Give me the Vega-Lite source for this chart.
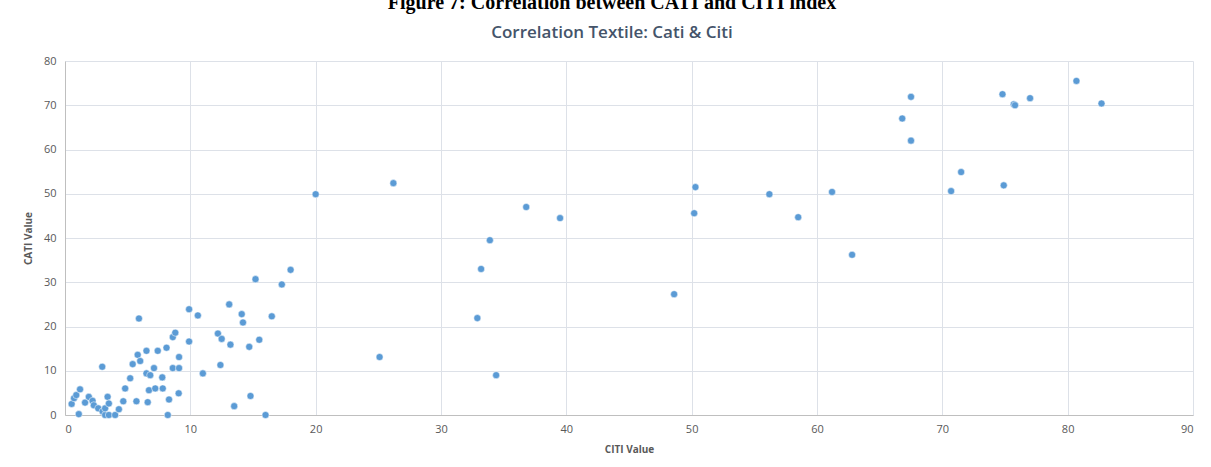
{
  "$schema": "https://vega.github.io/schema/vega-lite/v6.json",
  "width": 1128,
  "height": 354,
  "autosize": {"type": "none"},
  "padding": {"left": 65, "top": 61, "right": 18, "bottom": 52},
  "background": "white",
  "title": {
    "text": "Figure 7: Correlation between CATI and CITI index",
    "subtitle": "Correlation Textile: Cati & Citi",
    "font": "Liberation Serif",
    "fontSize": 20,
    "fontWeight": "bold",
    "color": "black",
    "subtitleFont": "Open Sans",
    "subtitleFontSize": 17,
    "subtitleFontWeight": 600,
    "subtitleColor": "#44546A",
    "subtitlePadding": 12,
    "offset": 14,
    "dx": -17,
    "anchor": "middle"
  },
  "data": {
    "values": [
      {"citi": 80.7, "cati": 75.5}, {"citi": 82.7, "cati": 70.4}, {"citi": 74.8, "cati": 72.5},
      {"citi": 77.0, "cati": 71.6}, {"citi": 75.7, "cati": 70.2}, {"citi": 75.8, "cati": 70.0},
      {"citi": 66.8, "cati": 67.0}, {"citi": 67.5, "cati": 71.9}, {"citi": 67.5, "cati": 62.0},
      {"citi": 71.5, "cati": 54.9}, {"citi": 70.7, "cati": 50.6}, {"citi": 74.9, "cati": 51.9},
      {"citi": 61.2, "cati": 50.4}, {"citi": 56.2, "cati": 49.9}, {"citi": 58.5, "cati": 44.7},
      {"citi": 62.8, "cati": 36.2}, {"citi": 50.3, "cati": 51.5}, {"citi": 50.2, "cati": 45.6},
      {"citi": 48.6, "cati": 27.3}, {"citi": 39.5, "cati": 44.5}, {"citi": 36.8, "cati": 47.0},
      {"citi": 33.9, "cati": 39.5}, {"citi": 33.2, "cati": 33.0}, {"citi": 32.9, "cati": 21.9},
      {"citi": 34.4, "cati": 9.0}, {"citi": 26.2, "cati": 52.4}, {"citi": 20.0, "cati": 49.9},
      {"citi": 25.1, "cati": 13.1},
      {"citi": 18.0, "cati": 32.8}, {"citi": 15.2, "cati": 30.7}, {"citi": 17.3, "cati": 29.5},
      {"citi": 13.1, "cati": 25.0}, {"citi": 9.9, "cati": 23.9}, {"citi": 10.6, "cati": 22.5},
      {"citi": 14.1, "cati": 22.8}, {"citi": 14.2, "cati": 20.9}, {"citi": 16.5, "cati": 22.3},
      {"citi": 12.2, "cati": 18.4}, {"citi": 12.5, "cati": 17.2}, {"citi": 13.2, "cati": 15.9},
      {"citi": 14.7, "cati": 15.4}, {"citi": 15.5, "cati": 17.0}, {"citi": 9.9, "cati": 16.6},
      {"citi": 12.4, "cati": 11.3}, {"citi": 11.0, "cati": 9.4}, {"citi": 13.5, "cati": 2.0},
      {"citi": 14.8, "cati": 4.3}, {"citi": 16.0, "cati": 0.0},
      {"citi": 0.53, "cati": 2.5}, {"citi": 0.72, "cati": 3.8}, {"citi": 0.9, "cati": 4.5},
      {"citi": 1.2, "cati": 5.8}, {"citi": 1.1, "cati": 0.2}, {"citi": 1.6, "cati": 2.8},
      {"citi": 1.9, "cati": 4.1}, {"citi": 2.2, "cati": 3.2}, {"citi": 2.3, "cati": 2.2},
      {"citi": 2.65, "cati": 1.5}, {"citi": 2.97, "cati": 10.9}, {"citi": 3.0, "cati": 0.8},
      {"citi": 3.2, "cati": 0.0}, {"citi": 3.2, "cati": 1.5}, {"citi": 3.4, "cati": 4.1},
      {"citi": 3.5, "cati": 2.6}, {"citi": 3.5, "cati": 0.0}, {"citi": 4.0, "cati": 0.0},
      {"citi": 4.3, "cati": 1.3}, {"citi": 4.65, "cati": 3.1}, {"citi": 4.8, "cati": 6.0},
      {"citi": 5.2, "cati": 8.3}, {"citi": 5.4, "cati": 11.5}, {"citi": 5.7, "cati": 3.1},
      {"citi": 5.9, "cati": 21.8}, {"citi": 5.8, "cati": 13.6}, {"citi": 6.0, "cati": 12.2},
      {"citi": 6.5, "cati": 14.5}, {"citi": 6.5, "cati": 9.4}, {"citi": 6.8, "cati": 9.0},
      {"citi": 6.6, "cati": 2.9}, {"citi": 6.7, "cati": 5.6}, {"citi": 7.1, "cati": 10.6},
      {"citi": 7.2, "cati": 6.0}, {"citi": 7.4, "cati": 14.5}, {"citi": 7.8, "cati": 6.0},
      {"citi": 7.76, "cati": 8.5}, {"citi": 8.1, "cati": 15.2}, {"citi": 8.3, "cati": 3.5},
      {"citi": 8.2, "cati": 0.0}, {"citi": 8.6, "cati": 17.6}, {"citi": 8.8, "cati": 18.6},
      {"citi": 8.6, "cati": 10.6}, {"citi": 9.1, "cati": 13.1}, {"citi": 9.1, "cati": 10.6},
      {"citi": 9.07, "cati": 4.9}
    ]
  },
  "mark": {"type": "circle", "size": 50, "color": "#5B9BD5", "opacity": 1, "stroke": "white", "strokeWidth": 0.5},
  "encoding": {
    "x": {
      "field": "citi", "type": "quantitative",
      "scale": {"domain": [0, 90], "nice": false, "zero": true},
      "axis": {
        "title": "CITI Value", "values": [0, 10, 20, 30, 40, 50, 60, 70, 80, 90],
        "titleFont": "Open Sans", "titleFontSize": 10, "titleFontWeight": "bold", "titleColor": "#595959",
        "titlePadding": 10,
        "labelFont": "Open Sans", "labelFontSize": 11, "labelColor": "#595959", "labelPadding": 8,
        "ticks": false, "domainColor": "#BFBFBF", "gridColor": "#DDE1E8"
      }
    },
    "y": {
      "field": "cati", "type": "quantitative",
      "scale": {"domain": [0, 80], "nice": false},
      "axis": {
        "title": "CATI Value", "values": [0, 10, 20, 30, 40, 50, 60, 70, 80],
        "titleFont": "Open Sans", "titleFontSize": 10, "titleFontWeight": "bold", "titleColor": "#595959",
        "titlePadding": 10,
        "labelFont": "Open Sans", "labelFontSize": 11, "labelColor": "#595959", "labelPadding": 9,
        "ticks": false, "domainColor": "#BFBFBF", "gridColor": "#DDE1E8"
      }
    }
  },
  "config": {"view": {"stroke": null}}
}
